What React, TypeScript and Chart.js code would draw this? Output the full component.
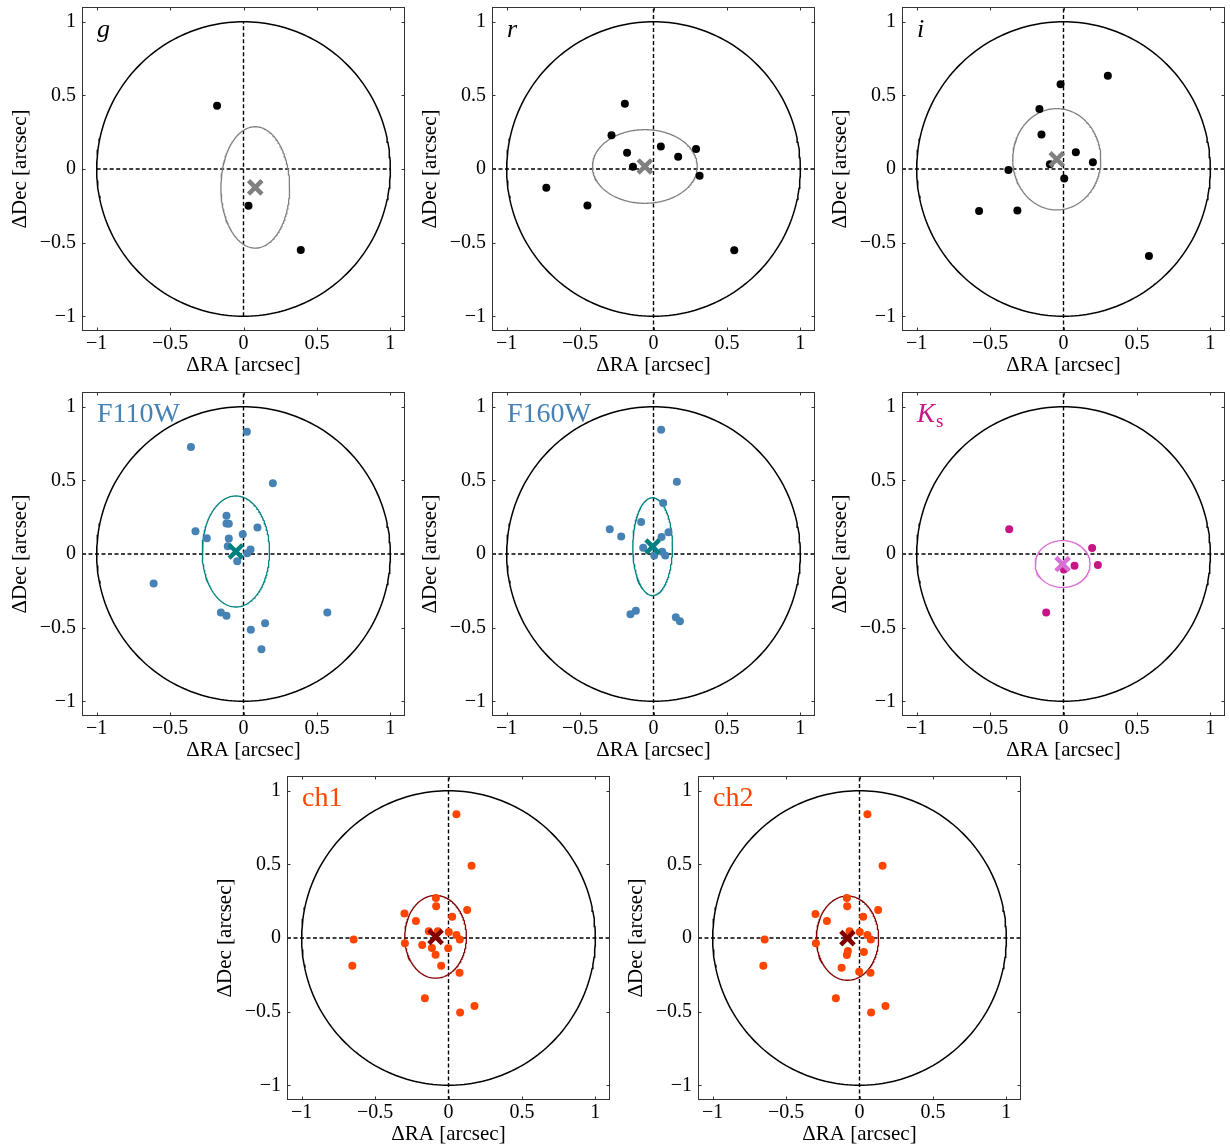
import React, { useEffect, useRef } from "react";
import { Chart, registerables } from "chart.js";

Chart.register(...registerables);

const FONT = "'Liberation Serif', 'DejaVu Serif', serif";

// Axis ticks
const tickValues = [-1, -0.5, 0, 0.5, 1];
const tickLabels = ["\u22121", "\u22120.5", "0", "0.5", "1"];
const axisMin = -1.1;
const axisMax = 1.1;

// Panel names
const panelNames = ["g", "r", "i", "F110W", "F160W", "Ks", "ch1", "ch2"];

// Individual offsets (ΔRA, ΔDec) in arcsec
const gRA = [-0.18, 0.034, 0.39];
const gDec = [0.43, -0.25, -0.55];

const rRA = [-0.195, -0.286, -0.18, -0.14, 0.05, 0.168, 0.29, 0.314, -0.73, -0.45, 0.55];
const rDec = [0.443, 0.23, 0.11, 0.016, 0.152, 0.084, 0.136, -0.045, -0.127, -0.248, -0.552];

const iRA = [0.302, -0.02, -0.164, -0.15, 0.084, 0.2, -0.093, 0.005, -0.375, -0.575, -0.314, 0.582];
const iDec = [0.634, 0.575, 0.407, 0.234, 0.114, 0.045, 0.032, -0.064, -0.007, -0.286, -0.282, -0.59];

const f110RA = [0.023, -0.358, 0.2, -0.116, -0.116, -0.1, -0.327, 0.095, -0.005, -0.25, -0.1, -0.107, 0.048, 0.025, -0.043, -0.612, -0.154, -0.116, 0.571, 0.147, 0.05, 0.122];
const f110Dec = [0.83, 0.727, 0.48, 0.26, 0.207, 0.205, 0.155, 0.18, 0.134, 0.107, 0.105, 0.052, 0.03, 0.005, -0.05, -0.2, -0.397, -0.42, -0.397, -0.47, -0.515, -0.647];

const f160RA = [0.052, 0.159, 0.066, -0.084, -0.298, -0.22, 0.102, 0.055, -0.07, 0.059, 0.005, 0.08, -0.157, -0.12, 0.152, 0.18];
const f160Dec = [0.843, 0.49, 0.347, 0.218, 0.168, 0.118, 0.148, 0.116, 0.043, 0.016, -0.011, -0.011, -0.409, -0.386, -0.43, -0.457];

const ksRA = [-0.37, 0.195, 0.234, 0.075, 0.002, -0.118];
const ksDec = [0.168, 0.041, -0.075, -0.08, -0.105, -0.398];

const ch1RA = [0.054, 0.157, -0.086, -0.084, -0.3, 0.127, -0.222, 0.025, -0.134, -0.073, 0.002, 0.054, 0.077, -0.646, -0.297, -0.179, -0.113, -0.002, -0.088, -0.05, -0.655, 0.075, -0.161, 0.177, 0.079];
const ch1Dec = [0.84, 0.49, 0.272, 0.216, 0.166, 0.19, 0.116, 0.145, 0.045, 0.045, 0.041, 0.02, -0.011, -0.011, -0.036, -0.048, -0.068, -0.07, -0.113, -0.188, -0.188, -0.236, -0.409, -0.461, -0.506];

const ch2RA = [0.054, 0.157, -0.086, -0.084, -0.3, 0.127, -0.222, 0.025, -0.068, 0.002, 0.054, 0.077, -0.646, -0.297, -0.079, -0.086, 0.03, -0.122, -0.002, 0.075, -0.655, -0.161, 0.177, 0.079];
const ch2Dec = [0.84, 0.49, 0.272, 0.216, 0.163, 0.19, 0.116, 0.145, 0.045, 0.041, 0.02, -0.011, -0.011, -0.036, -0.088, -0.116, -0.095, -0.202, -0.229, -0.236, -0.188, -0.409, -0.461, -0.506];

const pointsRA = [gRA, rRA, iRA, f110RA, f160RA, ksRA, ch1RA, ch2RA];
const pointsDec = [gDec, rDec, iDec, f110Dec, f160Dec, ksDec, ch1Dec, ch2Dec];

// Mean offsets (crosses) and error ellipses
const centroidRA = [0.08, -0.059, -0.046, -0.052, -0.006, -0.006, -0.088, -0.082];
const centroidDec = [-0.125, 0.017, 0.066, 0.017, 0.05, -0.068, 0.008, -0.001];
const ellipseHalfRA = [0.234, 0.357, 0.3, 0.229, 0.135, 0.187, 0.21, 0.212];
const ellipseHalfDec = [0.412, 0.25, 0.344, 0.377, 0.332, 0.159, 0.281, 0.286];

// Reference circle radius and guide line extents
const circleRadius = 1;
const guideExtent = [1, 1.1, 1.1, 1.1, 1.1, 1.1, 1.1, 1.1];

// Styles
const pointColors = ["#000000", "#000000", "#000000", "#4682b4", "#4682b4", "#c71585", "#ff4500", "#ff4500"];
const meanColors = ["#808080", "#808080", "#808080", "#008080", "#008080", "#da70d6", "#800000", "#800000"];
const labelColors = ["#000000", "#000000", "#000000", "#4682b4", "#4682b4", "#c71585", "#ff4500", "#ff4500"];
const labelItalic = [true, true, true, false, false, true, false, false];

// Layout (canvas positions)
const CANVAS_W = 410;
const CANVAS_H = 378;
const AREA_LEFT = 82;
const AREA_TOP = 7;
const AREA_W = 323;
const AREA_H = 324;
const canvasLeft = [0, 410, 820, 0, 410, 820, 205, 616];
const canvasTop = [0, 0, 0, 385, 385, 385, 769, 769];

function closedCurve(cx: number, cy: number, a: number, b: number) {
  const pts: { x: number; y: number }[] = [];
  const n = 240;
  for (let k = 0; k <= n; k++) {
    const t = (2 * Math.PI * k) / n;
    pts.push({ x: cx + a * Math.cos(t), y: cy + b * Math.sin(t) });
  }
  return pts;
}

function zeroPadding(s: any) {
  s.paddingTop = 0;
  s.paddingBottom = 0;
  s.paddingLeft = 0;
  s.paddingRight = 0;
}

function Panel({ idx }: { idx: number }) {
  const ref = useRef<HTMLCanvasElement | null>(null);

  useEffect(() => {
    if (!ref.current) return;
    const name = panelNames[idx];
    const pts = pointsRA[idx].map((x, k) => ({ x, y: pointsDec[idx][k] }));
    const ext = guideExtent[idx];

    const deco = {
      id: "deco" + idx,
      afterDraw(chart: any) {
        const { ctx, chartArea: a, scales } = chart;
        const xs = scales.x;
        const ys = scales.y;
        ctx.save();
        ctx.strokeStyle = "#333333";
        ctx.lineWidth = 1;
        ctx.strokeRect(a.left + 0.5, a.top + 0.5, a.right - a.left - 1, a.bottom - a.top - 1);
        const tl = 3.5;
        ctx.beginPath();
        for (const v of tickValues) {
          const px = Math.round(xs.getPixelForValue(v)) + 0.5;
          ctx.moveTo(px, a.bottom);
          ctx.lineTo(px, a.bottom - tl);
          ctx.moveTo(px, a.top);
          ctx.lineTo(px, a.top + tl);
          const py = Math.round(ys.getPixelForValue(v)) + 0.5;
          ctx.moveTo(a.left, py);
          ctx.lineTo(a.left + tl, py);
          ctx.moveTo(a.right, py);
          ctx.lineTo(a.right - tl, py);
        }
        ctx.stroke();

        // panel label
        ctx.fillStyle = labelColors[idx];
        ctx.textBaseline = "alphabetic";
        ctx.textAlign = "left";
        const lx = a.left + 15;
        const ly = a.top + 30;
        if (name === "Ks") {
          ctx.font = `italic 27px ${FONT}`;
          ctx.fillText("K", lx, ly);
          const w = ctx.measureText("K").width;
          ctx.font = `19px ${FONT}`;
          ctx.fillText("s", lx + w + 1, ly + 5);
        } else if (labelItalic[idx]) {
          ctx.font = `italic 26px ${FONT}`;
          ctx.fillText(name, lx, ly);
        } else {
          ctx.font = `28px ${FONT}`;
          ctx.fillText(name, lx, ly);
        }
        ctx.restore();
      },
    };

    const chart = new Chart(ref.current, {
      type: "scatter",
      data: {
        datasets: [
          {
            data: [{ x: centroidRA[idx], y: centroidDec[idx] }],
            pointStyle: "crossRot",
            pointRadius: 9.5,
            pointBorderWidth: 4.5,
            pointBorderColor: meanColors[idx],
            pointBackgroundColor: meanColors[idx],
            order: 0,
          },
          {
            data: pts,
            pointStyle: "circle",
            pointRadius: 4,
            pointBorderWidth: 0,
            pointBackgroundColor: pointColors[idx],
            pointBorderColor: pointColors[idx],
            order: 1,
          },
          {
            data: closedCurve(centroidRA[idx], centroidDec[idx], ellipseHalfRA[idx], ellipseHalfDec[idx]),
            showLine: true,
            pointRadius: 0,
            borderColor: meanColors[idx],
            borderWidth: 1.3,
            fill: false,
            order: 2,
          },
          {
            data: closedCurve(0, 0, circleRadius, circleRadius),
            showLine: true,
            pointRadius: 0,
            borderColor: "#000000",
            borderWidth: 1.5,
            fill: false,
            order: 3,
          },
          {
            data: [
              { x: -ext, y: 0 },
              { x: ext, y: 0 },
            ],
            showLine: true,
            pointRadius: 0,
            borderColor: "#000000",
            borderWidth: 1.4,
            borderDash: [4, 2.5],
            fill: false,
            order: 4,
          },
          {
            data: [
              { x: 0, y: -ext },
              { x: 0, y: ext },
            ],
            showLine: true,
            pointRadius: 0,
            borderColor: "#000000",
            borderWidth: 1.4,
            borderDash: [4, 2.5],
            fill: false,
            order: 4,
          },
        ] as any,
      },
      options: {
        animation: false,
        responsive: false,
        maintainAspectRatio: false,
        events: [],
        layout: {
          autoPadding: false,
          padding: {
            left: 0,
            top: AREA_TOP,
            right: CANVAS_W - AREA_LEFT - AREA_W,
            bottom: 0,
          },
        },
        plugins: {
          legend: { display: false },
          tooltip: { enabled: false },
        },
        scales: {
          x: {
            type: "linear",
            min: axisMin,
            max: axisMax,
            afterBuildTicks: (s: any) => {
              s.ticks = tickValues.map((v) => ({ value: v }));
            },
            afterFit: (s: any) => {
              s.height = CANVAS_H - AREA_TOP - AREA_H;
              zeroPadding(s);
            },
            ticks: {
              callback: (v: any) => tickLabels[tickValues.indexOf(Number(v))],
              font: { family: FONT, size: 20 },
              color: "#000000",
              padding: 1,
              maxRotation: 0,
              autoSkip: false,
            },
            grid: { display: false, drawTicks: false },
            border: { display: false },
            title: {
              display: true,
              text: "\u0394RA [arcsec]",
              font: { family: FONT, size: 21 },
              color: "#000000",
              padding: { top: 0, bottom: 0 },
            },
          },
          y: {
            type: "linear",
            min: axisMin,
            max: axisMax,
            afterBuildTicks: (s: any) => {
              s.ticks = tickValues.map((v) => ({ value: v }));
            },
            afterFit: (s: any) => {
              s.width = AREA_LEFT;
              zeroPadding(s);
            },
            ticks: {
              callback: (v: any) => tickLabels[tickValues.indexOf(Number(v))],
              font: { family: FONT, size: 20 },
              color: "#000000",
              padding: 6,
              autoSkip: false,
            },
            grid: { display: false, drawTicks: false },
            border: { display: false },
            title: {
              display: true,
              text: "\u0394Dec [arcsec]",
              font: { family: FONT, size: 21 },
              color: "#000000",
              padding: { top: 8, bottom: 0 },
            },
          },
        },
      } as any,
      plugins: [deco],
    });
    return () => chart.destroy();
  }, [idx]);

  return (
    <canvas
      ref={ref}
      width={CANVAS_W}
      height={CANVAS_H}
      style={{
        position: "absolute",
        left: canvasLeft[idx],
        top: canvasTop[idx],
        width: CANVAS_W,
        height: CANVAS_H,
      }}
    />
  );
}

export default function App() {
  return (
    <div
      style={{
        position: "absolute",
        left: 0,
        top: 0,
        width: 1230,
        height: 1148,
        overflow: "hidden",
        background: "#ffffff",
      }}
    >
      {panelNames.map((_, i) => (
        <Panel key={i} idx={i} />
      ))}
    </div>
  );
}
